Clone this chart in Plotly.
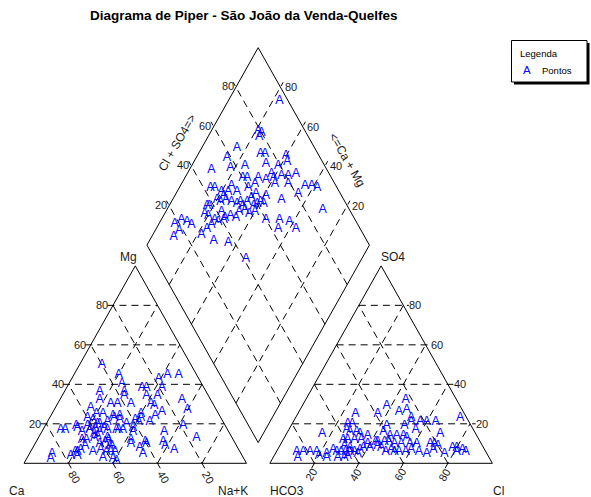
import math
import plotly.graph_objects as go

TITLE = "Diagrama de Piper - São João da Venda-Quelfes"
GRID_STEPS = [20, 40, 60, 80]
FONT = "Liberation Sans, Arial, Helvetica, sans-serif"
POINT_COLOR = "#0000ff"

# Cation triangle (% meq/L)
cat_ca = [40, 35, 18, 13, 8, 36, 28, 26, 19, 48, 37, 38, 28, 23, 13, 50, 46, 43, 37, 28,
          27, 13, 56, 55, 52, 48, 45, 35, 25, 29, 75, 73, 67, 67, 60, 58, 57, 56, 52, 48,
          46, 50, 44, 39, 38, 36, 33, 29, 19, 66, 62, 61, 58, 55, 54, 49, 47, 43, 42, 68,
          66, 62, 60, 56, 56, 46, 47, 40, 40, 32, 29, 16, 85, 87, 74, 73, 71, 66, 62, 60,
          58, 56, 59, 58, 44, 44, 32, 74, 77, 57, 63, 59, 62, 61, 58, 68, 56]
cat_mg = [50, 45, 43, 45, 45, 40, 38, 38, 38, 36, 36, 34, 34, 34, 32, 32, 30, 30, 30, 30,
          29, 27, 28, 25, 25, 24, 24, 25, 26, 24, 17, 17, 19, 18, 23, 22, 20, 20, 21, 23,
          22, 17, 20, 22, 21, 23, 21, 16, 19, 16, 17, 15, 16, 18, 17, 17, 17, 16, 18, 12,
          12, 13, 14, 13, 12, 12, 10, 11, 10, 11, 7, 13, 5, 2, 6, 6, 7, 6, 7, 6,
          6, 6, 2, 1, 8, 5, 9, 4, 4, 9, 3, 18, 19, 10, 11, 9, 9]
cat_nak = [10, 20, 39, 42, 47, 24, 34, 36, 43, 16, 27, 28, 38, 43, 55, 18, 24, 27, 33, 42,
           44, 60, 16, 20, 23, 28, 31, 40, 49, 47, 8, 10, 14, 15, 17, 20, 23, 24, 27, 29,
           32, 33, 36, 39, 41, 41, 46, 55, 62, 18, 21, 24, 26, 27, 29, 34, 36, 41, 40, 20,
           22, 25, 26, 31, 32, 42, 43, 49, 50, 57, 64, 71, 10, 11, 20, 21, 22, 28, 31, 34,
           36, 38, 39, 41, 48, 51, 59, 22, 19, 34, 34, 23, 19, 29, 31, 23, 35]

# Anion triangle (% meq/L)
an_hco3 = [23, 33, 29, 25, 49, 39, 25, 3, 55, 53, 38, 30, 26, 22, 19, 15, 26, 16, 69, 57,
           56, 53, 52, 49, 41, 39, 36, 33, 32, 61, 59, 56, 53, 47, 46, 43, 41, 39, 36, 32,
           29, 23, 21, 20, 14, 12, 10, 85, 86, 82, 79, 76, 72, 73, 68, 67, 65, 63, 63, 61,
           59, 58, 56, 54, 51, 47, 46, 45, 42, 41, 39, 36, 33, 30, 27, 23, 19, 13, 9, 65,
           68, 76, 62, 60, 51]
an_so4 = [32, 29, 26, 27, 25, 25, 23, 23, 20, 20, 19, 19, 21, 21, 21, 21, 17, 15, 15, 17,
          16, 16, 15, 14, 16, 14, 14, 14, 13, 12, 12, 12, 12, 11, 11, 11, 11, 10, 10, 10,
          10, 10, 10, 9, 8, 8, 7, 6, 3, 6, 6, 6, 5, 3, 7, 6, 6, 6, 4, 6,
          6, 5, 7, 8, 8, 9, 8, 6, 7, 6, 6, 6, 7, 6, 5, 7, 5, 6, 6, 3,
          3, 4, 9, 8, 10]
an_cl = [45, 38, 45, 48, 26, 36, 52, 74, 25, 27, 43, 51, 53, 57, 60, 64, 57, 69, 16, 26,
         28, 31, 33, 37, 43, 47, 50, 53, 55, 27, 29, 32, 35, 42, 43, 46, 48, 51, 54, 58,
         61, 67, 69, 71, 78, 80, 83, 9, 11, 12, 15, 18, 23, 24, 25, 27, 29, 31, 33, 33,
         35, 37, 37, 38, 41, 44, 46, 49, 51, 53, 55, 58, 60, 64, 68, 70, 76, 81, 85, 32,
         29, 20, 29, 32, 39]

# Central diamond (% meq/L)
dia_camg = [77, 79, 77, 77, 84, 86, 72, 70, 60, 61, 58, 67, 90, 82, 76, 74, 72, 67, 63, 62,
            60, 57, 54, 51, 44, 41, 38, 86, 84, 80, 77, 77, 73, 69, 67, 64, 58, 52, 83, 82,
            80, 78, 78, 76, 73, 70, 69, 67, 66, 65, 62, 61, 60, 58, 59, 51, 45, 30, 82, 80,
            76, 75, 72, 70, 67, 67, 65, 62, 60, 53, 47, 42, 37, 45, 93, 91, 88, 85, 89, 90,
            78, 77, 76, 74, 72, 71, 64, 52]
dia_clso4 = [96, 79, 80, 78, 65, 58, 74, 76, 85, 79, 84, 74, 48, 57, 64, 60, 62, 67, 70, 74,
             74, 78, 81, 85, 86, 89, 91, 43, 45, 47, 50, 53, 54, 60, 64, 62, 73, 79, 37, 38,
             43, 44, 47, 47, 49, 51, 53, 53, 56, 59, 58, 60, 62, 63, 66, 72, 81, 88, 34, 35,
             37, 42, 42, 45, 47, 50, 53, 54, 57, 60, 66, 70, 71, 63, 18, 22, 24, 25, 18, 14,
             27, 31, 34, 38, 41, 31, 37, 41]

# Geometry of the three panels (unit side triangles)
H = math.sqrt(3) / 2
GAP = 0.105
X_AN = 1 + GAP
BX, BY = 1 + GAP / 2, GAP * H
TICK = 0.025


def cat_xy(mg, nak):
    return nak / 100 + mg / 200, mg / 100 * H


def an_xy(so4, cl):
    return X_AN + cl / 100 + so4 / 200, so4 / 100 * H


def dia_xy(camg, clso4):
    s, t = camg / 100, clso4 / 100
    return BX + 0.5 * (t - s), BY + H * (t + s)


def add_seg(xs, ys, p, q):
    xs += [p[0], q[0], None]
    ys += [p[1], q[1], None]


# Frames
fx, fy = [], []
for pts in ([(0, 0), (1, 0), (0.5, H), (0, 0)],
            [(X_AN, 0), (X_AN + 1, 0), (X_AN + 0.5, H), (X_AN, 0)],
            [dia_xy(0, 0), dia_xy(0, 100), dia_xy(100, 100), dia_xy(100, 0), dia_xy(0, 0)]):
    fx += [p[0] for p in pts] + [None]
    fy += [p[1] for p in pts] + [None]

# Dashed grid with short ticks on labelled sides
gx, gy = [], []
for p in GRID_STEPS:
    f = p / 100
    # cation: Mg, Ca, Na+K
    add_seg(gx, gy, (f / 2 - TICK, f * H), (1 - f / 2, f * H))
    add_seg(gx, gy, (1 - f + TICK * 0.5, -TICK * H), ((1 - f) / 2, (1 - f) * H))
    add_seg(gx, gy, (f, 0), (f + (1 - f) / 2, (1 - f) * H))
    # anion: SO4, Cl, HCO3
    add_seg(gx, gy, (X_AN + f / 2, f * H), (X_AN + 1 - f / 2 + TICK, f * H))
    add_seg(gx, gy, (X_AN + f - TICK * 0.5, -TICK * H), (X_AN + f + (1 - f) / 2, (1 - f) * H))
    add_seg(gx, gy, (X_AN + 1 - f, 0), (X_AN + (1 - f) / 2, (1 - f) * H))
    # diamond: Cl+SO4 and Ca+Mg
    a, b = dia_xy(0, p), dia_xy(100, p)
    add_seg(gx, gy, a, (b[0] - TICK * 0.5, b[1] + TICK * H))
    a, b = dia_xy(p, 0), dia_xy(p, 100)
    add_seg(gx, gy, a, (b[0] + TICK * 0.5, b[1] + TICK * H))

fig = go.Figure()
fig.add_trace(go.Scatter(x=gx, y=gy, mode="lines", hoverinfo="skip",
                         line=dict(color="black", width=1, dash="7px,5px")))
fig.add_trace(go.Scatter(x=fx, y=fy, mode="lines", hoverinfo="skip",
                         line=dict(color="black", width=1)))

pts = [cat_xy(m, n) for m, n in zip(cat_mg, cat_nak)]
pts += [an_xy(s, c) for s, c in zip(an_so4, an_cl)]
pts += [dia_xy(cm, cs) for cm, cs in zip(dia_camg, dia_clso4)]
fig.add_trace(go.Scatter(x=[p[0] for p in pts], y=[p[1] for p in pts], mode="text",
                         text=["A"] * len(pts), textposition="middle center",
                         textfont=dict(family=FONT, size=12.5, color=POINT_COLOR),
                         hoverinfo="skip"))

ann = []


def label(x, y, text, size=11, angle=0, **kw):
    d = dict(x=x, y=y, text=text, showarrow=False, xref="x", yref="y", textangle=angle,
             font=dict(family=FONT, size=size, color="#1a1a1a"),
             xanchor="center", yanchor="middle")
    d.update(kw)
    ann.append(d)


for p in GRID_STEPS:
    f = p / 100
    label(f / 2 - 0.049, f * H, str(p))
    label(1 - f + 0.026, -0.061, str(p), angle=60)
    label(X_AN + 1 - f / 2 + 0.053, f * H, str(p))
    label(X_AN + f - 0.016, -0.05, str(p), angle=-60)
    x, y = dia_xy(100, p)
    label(x - 0.037, y + 0.004, str(p))
    x, y = dia_xy(p, 100)
    label(x + 0.048, y, str(p))

# Axis / vertex names
label(0.5 - 0.031, H + 0.04, "Mg", size=12)
label(-0.033, -0.12, "Ca", size=12)
label(1 - 0.059, -0.12, "Na+K", size=12)
label(X_AN + 0.076, -0.12, "HCO3", size=12)
label(X_AN + 1 + 0.027, -0.12, "Cl", size=12)
label(X_AN + 0.5 + 0.055, H + 0.04, "SO4", size=12)
label(0.688, 1.405, "Cl + SO4=>", size=12, angle=-60)
label(1.452, 1.33, "<=Ca + Mg", size=12, angle=60)

W, HT = 591, 497


def px(x, y):
    return x / W, 1 - y / HT


tx, ty = px(243.5, 16)
ann.append(dict(x=tx, y=ty, xref="paper", yref="paper", text="<b>" + TITLE + "</b>",
                showarrow=False, xanchor="center", yanchor="middle",
                font=dict(family=FONT, size=13.5, color="black")))

# Legend box with drop shadow
shapes = []
x0, y1 = px(514, 43)
x1, y0 = px(589.5, 84.5)
shapes.append(dict(type="rect", xref="paper", yref="paper", x0=x0, x1=x1, y0=y0, y1=y1,
                   fillcolor="black", line=dict(width=0)))
x0, y1 = px(511.5, 40.5)
x1, y0 = px(587, 82)
shapes.append(dict(type="rect", xref="paper", yref="paper", x0=x0, x1=x1, y0=y0, y1=y1,
                   fillcolor="white", line=dict(color="black", width=1)))
lx, ly = px(517.5, 53.5)
ann.append(dict(x=lx, y=ly, xref="paper", yref="paper", text="Legenda", showarrow=False,
                xanchor="left", yanchor="middle", font=dict(family=FONT, size=9.5, color="black")))
lx, ly = px(526.5, 70.5)
ann.append(dict(x=lx, y=ly, xref="paper", yref="paper", text="A", showarrow=False,
                xanchor="center", yanchor="middle", font=dict(family=FONT, size=11.5, color=POINT_COLOR)))
lx, ly = px(539.5, 70.5)
ann.append(dict(x=lx, y=ly, xref="paper", yref="paper", text="Pontos", showarrow=False,
                xanchor="left", yanchor="middle", font=dict(family=FONT, size=9.5, color="black")))

fig.update_layout(
    width=W, height=HT, autosize=False,
    margin=dict(l=0, r=0, t=0, b=0, pad=0),
    paper_bgcolor="white", plot_bgcolor="white", showlegend=False,
    xaxis=dict(range=[-24 / 222.5, 567 / 222.5], visible=False, fixedrange=True),
    yaxis=dict(range=[-(497 - 463.3) / 228, 463.3 / 228], visible=False, fixedrange=True),
    annotations=ann, shapes=shapes,
)

fig.write_html("out.html")
